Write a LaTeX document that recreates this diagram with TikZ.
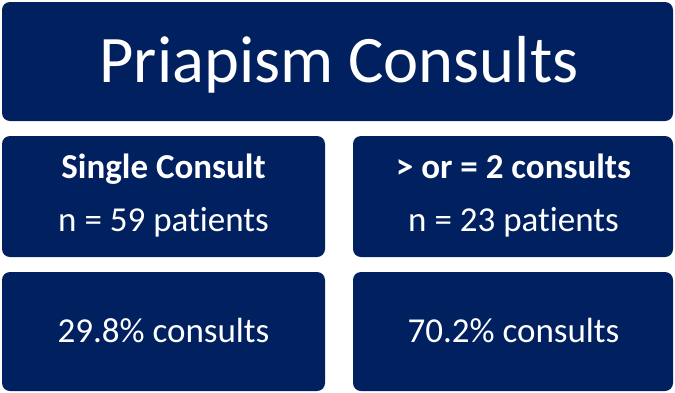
\documentclass[tikz,border=0pt]{standalone}
\usepackage{fontspec}
\setmainfont[Ligatures={NoCommon}]{Carlito}
\definecolor{navy}{RGB}{0,32,96}
\tikzset{
  panel/.style={fill=navy, draw=none, rounded corners=8pt},
  txt/.style={text=white, anchor=base, inner sep=0pt},
  big/.style={font=\fontsize{66.5}{70}\selectfont},
  hd/.style={font=\bfseries\fontsize{35}{39}\selectfont},
  bd/.style={font=\fontsize{35}{39}\selectfont},
}
\begin{document}
\begin{tikzpicture}[x=1pt,y=-1pt]
\useasboundingbox (0,0) rectangle (675,392);
\fill[panel] (2,2) rectangle (673,121);
\fill[panel] (2,136) rectangle (325,257);
\fill[panel] (353,136) rectangle (673,257);
\fill[panel] (2,272) rectangle (325,391);
\fill[panel] (353,272) rectangle (673,391);
\node[txt, big] (title) at (339,82) {Priapism Consults};
\node[txt, hd] (sc) at (163.5,178) {Single Consult};
\node[txt, bd] (sn) at (163.5,231) {n = 59 patients};
\node[txt, hd] (mc) at (513.5,178) {> or = 2 consults};
\node[txt, bd] (mn) at (513.5,231) {n = 23 patients};
\node[txt, bd] (sp) at (163.5,342) {29.8\% consults};
\node[txt, bd] (mp) at (513.5,342) {70.2\% consults};
\end{tikzpicture}
\end{document}
